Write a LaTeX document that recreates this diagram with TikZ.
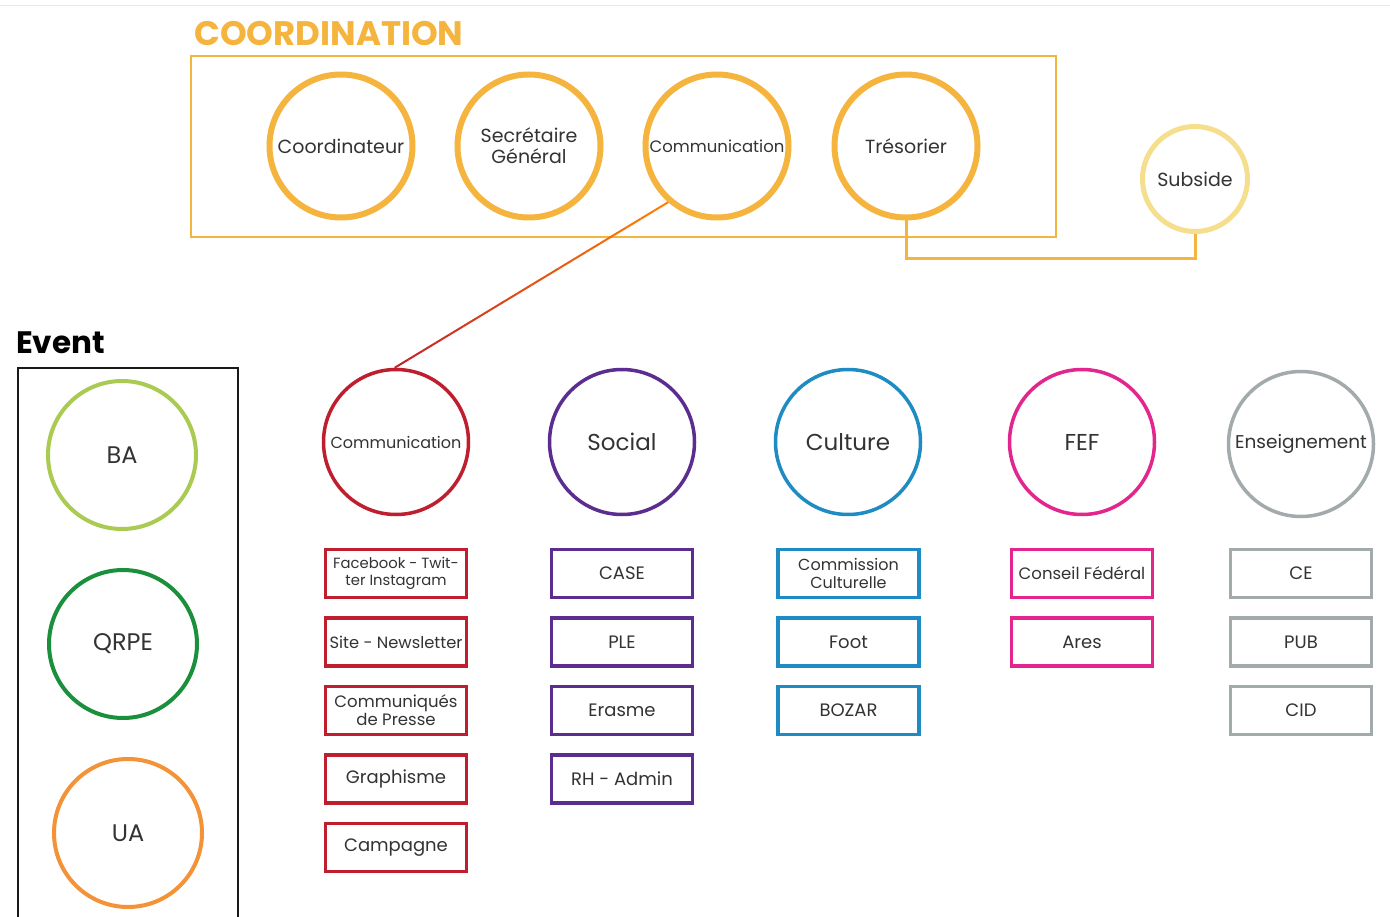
\documentclass[tikz,border=0pt]{standalone}
\usepackage{fontspec}
\setmainfont{Poppins}
\usetikzlibrary{calc}
\definecolor{cgold}{HTML}{F5B43E}
\definecolor{csub}{HTML}{F5DE8C}
\definecolor{cred}{HTML}{BE1E2D}
\definecolor{cpurple}{HTML}{5B2D8E}
\definecolor{cblue}{HTML}{1E8CC3}
\definecolor{cmag}{HTML}{E2268D}
\definecolor{cgray}{HTML}{A3AAAC}
\definecolor{clgreen}{HTML}{A9CB52}
\definecolor{cdgreen}{HTML}{1A8F3C}
\definecolor{corange}{HTML}{F39236}
\definecolor{ctext}{HTML}{333333}
\tikzset{
  topcirc/.style={circle, draw=cgold, line width=6pt, minimum size=143pt, inner sep=0pt, align=center, text=ctext, font=\fontsize{19}{21}\selectfont},
  subcirc/.style={circle, draw=csub, line width=5pt, minimum size=105pt, inner sep=0pt, text=ctext, font=\fontsize{19}{21}\selectfont},
  midcirc/.style={circle, line width=3.5pt, minimum size=145pt, inner sep=0pt, text=ctext},
  evcirc/.style={circle, line width=4pt, minimum size=148pt, inner sep=0pt, text=ctext, font=\fontsize{24}{26}\selectfont},
  subbox/.style={rectangle, line width=3.5pt, minimum width=141pt, minimum height=48pt, inner sep=1pt, align=center, text=ctext, font=\fontsize{18}{19}\selectfont},
  link/.style={draw=cgold, line width=3pt},
}
\begin{document}
\begin{tikzpicture}[x=1pt,y=-1pt]
\useasboundingbox (0,0) rectangle (1390,917);
\fill[white] (0,0) rectangle (1390,917);
\draw[color=black!9, line width=1.5pt] (0,5.5) -- (1390,5.5);

% Coordination
\node[anchor=base west, text=cgold, font=\bfseries\fontsize{34}{36}\selectfont, inner sep=0pt] (ctitle) at (194,46) {COORDINATION};
\draw[cgold, line width=2.2pt] (191,56) rectangle (1056,237);
\node[topcirc] (coord) at (341,146) {Coordinateur};
\node[topcirc] (sec) at (529,146) {Secrétaire\\Général};
\node[topcirc, font=\fontsize{16.5}{18}\selectfont] (comm1) at (717,146) {Communication};
\node[topcirc] (tres) at (906,146) {Trésorier};
\node[subcirc] (subs) at (1195,179) {Subside};
\draw[link] (tres.south) -- ++(0,38) -| (subs.south);

% Event
\node[anchor=base west, font=\bfseries\fontsize{31}{33}\selectfont, inner sep=0pt] (etitle) at (16,354) {Event};
\draw[black!90, line width=2.5pt] (18,920) -- (18,368) -- (238,368) -- (238,920);
\node[evcirc, draw=clgreen] (ba) at (122,455) {BA};
\node[evcirc, draw=cdgreen] (qrpe) at (123,644) {QRPE};
\node[evcirc, draw=corange] (ua) at (128,833) {UA};

% Middle circles
\node[midcirc, draw=cred, font=\fontsize{16}{18}\selectfont] (comm2) at (396,442) {Communication};
\node[midcirc, draw=cpurple, font=\fontsize{23}{25}\selectfont] (soc) at (622,442) {Social};
\node[midcirc, draw=cblue, font=\fontsize{23}{25}\selectfont] (cul) at (848,442) {Culture};
\node[midcirc, draw=cmag, font=\fontsize{23}{25}\selectfont] (fef) at (1082,442) {FEF};
\node[midcirc, draw=cgray, font=\fontsize{18.5}{20}\selectfont] (ens) at (1301,444) {Enseignement};

% gradient connector
\coordinate (gs) at (comm1.-131);
\coordinate (ge) at (comm2.91);
\foreach \i in {0,...,19}{
  \pgfmathsetmacro{\pa}{100-5*\i}
  \draw[line width=2pt, color=orange!\pa!cred] ($(gs)!\i/20!(ge)$) -- ($(gs)!{(\i+1)/20}!(ge)$);
}

% Boxes
\node[subbox, draw=cred, font=\fontsize{14.8}{17}\selectfont] (r1) at (396,573.5) {Facebook - Twit-\\ter Instagram};
\node[subbox, draw=cred, font=\fontsize{16.3}{18}\selectfont] (r2) at (396,642) {Site - Newsletter};
\node[subbox, draw=cred, font=\fontsize{16.5}{18}\selectfont] (r3) at (396,710.5) {Communiqués\\de Presse};
\node[subbox, draw=cred] (r4) at (396,779) {Graphisme};
\node[subbox, draw=cred] (r5) at (396,847.5) {Campagne};

\node[subbox, draw=cpurple] (p1) at (622,573.5) {CASE};
\node[subbox, draw=cpurple] (p2) at (622,642) {PLE};
\node[subbox, draw=cpurple] (p3) at (622,710.5) {Erasme};
\node[subbox, draw=cpurple] (p4) at (622,779) {RH - Admin};

\node[subbox, draw=cblue, font=\fontsize{16}{18}\selectfont] (b1) at (848.5,573.5) {Commission\\Culturelle};
\node[subbox, draw=cblue] (b2) at (848.5,642) {Foot};
\node[subbox, draw=cblue] (b3) at (848.5,710.5) {BOZAR};

\node[subbox, draw=cmag, font=\fontsize{16.5}{18}\selectfont] (m1) at (1082,573.5) {Conseil Fédéral};
\node[subbox, draw=cmag] (m2) at (1082,642) {Ares};

\node[subbox, draw=cgray] (g1) at (1301,573.5) {CE};
\node[subbox, draw=cgray] (g2) at (1301,642) {PUB};
\node[subbox, draw=cgray] (g3) at (1301,710.5) {CID};
\end{tikzpicture}
\end{document}
